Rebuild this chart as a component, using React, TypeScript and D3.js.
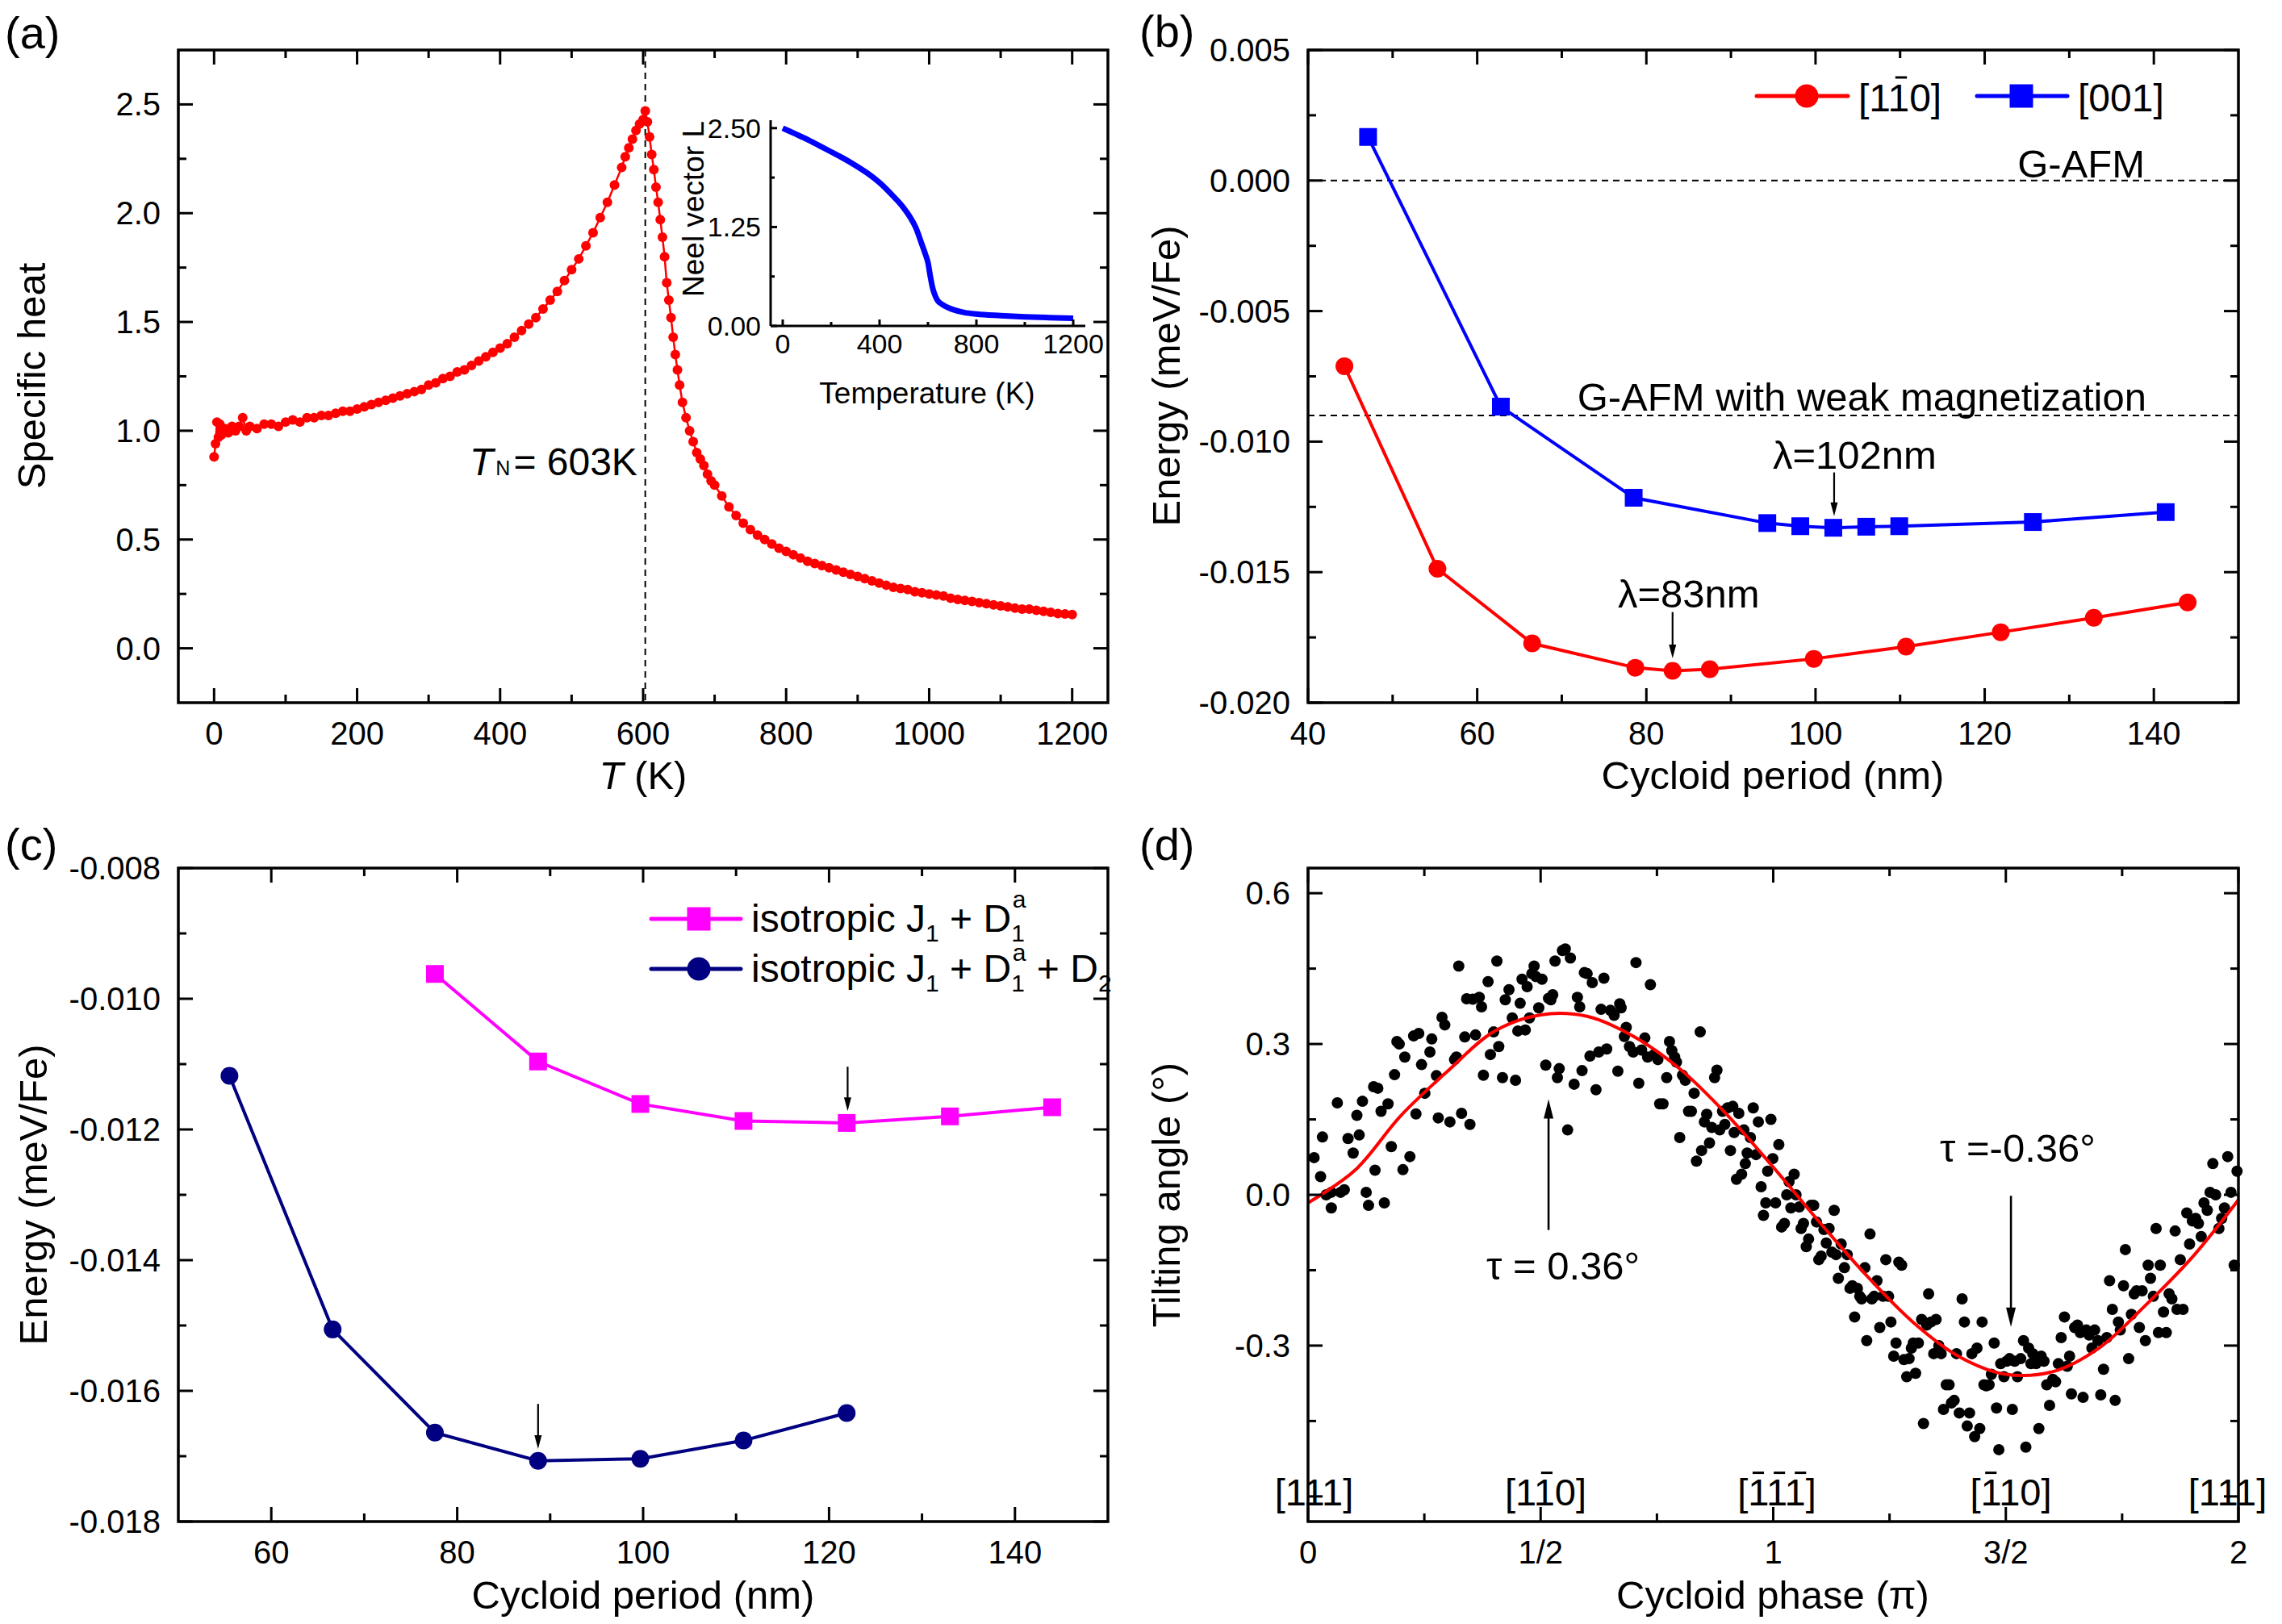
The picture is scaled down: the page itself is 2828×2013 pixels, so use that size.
import React from 'react';
import * as d3 from 'd3';

const FONT = "'Liberation Sans', Arial, Helvetica, sans-serif";

// ---------- Panel (a): specific heat ----------
const heatT = [0,2,4,6,8,10,15,20,25,30,35,40,45,50,60,70,80,90,100,110,120,130,140,150,160,170,180,190,200,210,220,230,240,250,260,270,280,290,300,310,320,330,340,350,360,370,380,390,400,410,420,430,440,450,460,470,480,490,500,510,520,530,540,550,560,570,575,580,585,590,595,600,603,606,609,612,615,618,621,624,627,630,633,636,639,642,645,648,651,655,660,665,670,675,680,685,690,695,700,710,720,730,740,750,760,770,780,790,800,810,820,830,840,850,860,870,880,890,900,910,920,930,940,950,960,970,980,990,1000,1010,1020,1030,1040,1050,1060,1070,1080,1090,1100,1110,1120,1130,1140,1150,1160,1170,1180,1190,1200];
const heatC = [0.88,0.94,1.04,0.97,1.03,0.98,1.01,0.99,1.02,1.00,1.02,1.06,1.00,1.02,1.01,1.03,1.03,1.02,1.04,1.05,1.04,1.06,1.06,1.07,1.07,1.08,1.09,1.09,1.10,1.11,1.12,1.13,1.14,1.15,1.16,1.17,1.18,1.19,1.21,1.22,1.24,1.25,1.27,1.28,1.30,1.32,1.34,1.36,1.38,1.40,1.43,1.46,1.49,1.52,1.56,1.60,1.64,1.69,1.74,1.79,1.85,1.91,1.98,2.05,2.13,2.21,2.26,2.30,2.34,2.38,2.41,2.43,2.47,2.42,2.35,2.27,2.20,2.12,2.05,1.97,1.89,1.80,1.68,1.60,1.52,1.43,1.35,1.28,1.21,1.13,1.06,1.00,0.95,0.90,0.87,0.84,0.80,0.77,0.75,0.70,0.65,0.61,0.575,0.545,0.52,0.50,0.48,0.46,0.445,0.43,0.415,0.40,0.39,0.38,0.37,0.36,0.35,0.34,0.33,0.32,0.31,0.30,0.29,0.28,0.275,0.27,0.26,0.255,0.25,0.245,0.24,0.23,0.225,0.22,0.215,0.21,0.205,0.20,0.195,0.19,0.185,0.18,0.18,0.175,0.17,0.165,0.16,0.158,0.155];
const neelTemp = [0,50,100,150,200,250,300,350,400,450,500,525,550,575,590,600,610,620,630,640,660,680,700,750,800,900,1000,1100,1200];
const neelL = [2.50,2.43,2.36,2.28,2.20,2.12,2.03,1.93,1.81,1.66,1.49,1.38,1.24,1.03,0.90,0.80,0.62,0.47,0.38,0.32,0.27,0.235,0.21,0.17,0.15,0.13,0.115,0.105,0.097];
const TN = 603;
const aXMaj = [0,200,400,600,800,1000,1200];
const aXMin = [100,300,500,700,900,1100];
const aYMaj = [0,0.5,1,1.5,2,2.5];
const aYMin = [0.25,0.75,1.25,1.75,2.25];
const iXMaj = [0,400,800,1200];
const iXMin = [200,600,1000];
const iYMaj = [0,1.25,2.5];
const iYMin = [0.625,1.875];

// ---------- Panel (b) ----------
const periodRed = [44.3,55.3,66.5,78.7,83.1,87.5,99.8,110.7,121.9,132.9,144.0];
const energyRed = [-0.00711,-0.01487,-0.01773,-0.01866,-0.01878,-0.01872,-0.01832,-0.01785,-0.0173,-0.01675,-0.01616];
const periodBlue = [47.1,62.8,78.5,94.3,98.2,102.1,106.0,109.9,125.7,141.4];
const energyBlue = [0.00167,-0.00866,-0.01215,-0.01312,-0.01324,-0.0133,-0.01326,-0.01324,-0.01308,-0.0127];
const gafmLevels = [0, -0.009];
const bXMaj = [40,60,80,100,120,140];
const bXMin = [50,70,90,110,130];
const bYMaj = [-0.02,-0.015,-0.01,-0.005,0,0.005];
const bYMin = [-0.0175,-0.0125,-0.0075,-0.0025,0.0025];

// ---------- Panel (c) ----------
const periodMag = [77.6,88.7,99.7,110.8,121.9,133.0,144.0];
const energyMag = [-0.00962,-0.01096,-0.01161,-0.01187,-0.0119,-0.0118,-0.01166];
const periodNavy = [55.5,66.6,77.6,88.7,99.7,110.8,121.9];
const energyNavy = [-0.01118,-0.01506,-0.01664,-0.01707,-0.01704,-0.01676,-0.01634];
const cXMaj = [60,80,100,120,140];
const cXMin = [70,90,110,130];
const cYMaj = [-0.018,-0.016,-0.014,-0.012,-0.01,-0.008];
const cYMin = [-0.017,-0.015,-0.013,-0.011,-0.009];

// ---------- Panel (d) ----------
const fitPhase = [0,0.1,0.2,0.3,0.4,0.5,0.6,0.7,0.8,0.9,1.0,1.1,1.2,1.3,1.4,1.5,1.6,1.7,1.8,1.9,2.0];
const fitTilt = [-0.016,0.048,0.158,0.246,0.325,0.358,0.355,0.315,0.25,0.16,0.055,-0.055,-0.16,-0.253,-0.322,-0.357,-0.352,-0.305,-0.22,-0.125,-0.01];
const dotPhase = [0.013,0.027,0.031,0.039,0.050,0.063,0.050,0.070,0.078,0.086,
0.097,0.105,0.110,0.117,0.125,0.130,0.141,0.144,0.150,0.157,
0.164,0.172,0.179,0.186,0.191,0.196,0.204,0.208,0.219,0.227,
0.232,0.238,0.244,0.251,0.262,0.266,0.276,0.280,0.288,0.294,
0.305,0.315,0.319,0.324,0.330,0.337,0.341,0.348,0.354,0.360,
0.368,0.373,0.377,0.387,0.392,0.399,0.406,0.410,0.418,0.424,
0.432,0.439,0.446,0.451,0.456,0.460,0.467,0.471,0.476,0.481,
0.486,0.490,0.496,0.503,0.511,0.517,0.522,0.526,0.531,0.536,
0.540,0.547,0.553,0.558,0.564,0.572,0.579,0.584,0.589,0.594,
0.600,0.606,0.611,0.619,0.625,0.630,0.636,0.642,0.650,0.658,
0.666,0.670,0.673,0.680,0.684,0.691,0.699,0.705,0.711,0.717,
0.724,0.730,0.736,0.744,0.752,0.756,0.763,0.771,0.777,0.782,
0.788,0.792,0.799,0.805,0.811,0.818,0.824,0.830,0.835,0.843,
0.846,0.852,0.857,0.863,0.868,0.874,0.879,0.885,0.891,0.896,
0.902,0.908,0.913,0.916,0.921,0.926,0.932,0.937,0.940,0.944,
0.951,0.957,0.963,0.968,0.974,0.979,0.984,0.988,0.995,0.999,
1.005,1.012,1.018,1.024,1.029,1.034,1.038,1.045,1.049,1.056,
1.060,1.065,1.071,1.076,1.081,1.087,1.093,1.098,1.103,1.109,
1.114,1.120,1.126,1.131,1.135,1.140,1.146,1.153,1.159,1.165,
1.170,1.175,1.181,1.186,1.190,1.197,1.201,1.208,1.212,1.217,
1.223,1.229,1.236,1.242,1.248,1.253,1.259,1.264,1.270,1.276,
1.281,1.287,1.292,1.297,1.301,1.306,1.312,1.319,1.323,1.330,
1.334,1.339,1.345,1.350,1.356,1.361,1.366,1.372,1.378,1.383,
1.389,1.394,1.400,1.406,1.411,1.417,1.422,1.427,1.433,1.438,
1.444,1.449,1.453,1.458,1.464,1.469,1.475,1.480,1.485,1.489,
1.496,1.502,1.508,1.514,1.519,1.525,1.532,1.538,1.543,1.549,
1.554,1.558,1.565,1.571,1.576,1.582,1.588,1.594,1.601,1.607,
1.613,1.619,1.626,1.632,1.637,1.641,1.648,1.654,1.660,1.666,
1.673,1.679,1.685,1.691,1.698,1.704,1.710,1.717,1.723,1.729,
1.735,1.742,1.746,1.753,1.757,1.764,1.770,1.776,1.781,1.787,
1.793,1.800,1.806,1.811,1.817,1.823,1.828,1.832,1.839,1.845,
1.851,1.857,1.864,1.868,1.875,1.881,1.889,1.895,1.901,1.908,
1.914,1.920,1.926,1.933,1.939,1.945,1.951,1.958,1.964,1.970,1.977,1.984,1.991,1.997];
const dotTilt = [0.074,0.036,0.115,0.000,-0.026,0.183,0.005,0.005,0.010,0.112,
0.083,0.158,0.119,0.186,0.005,-0.021,0.215,0.049,0.212,0.166,
-0.016,0.181,0.096,0.239,0.305,0.300,0.050,0.274,0.076,0.316,
0.161,0.321,0.259,0.202,0.284,0.310,0.237,0.153,0.353,0.338,
0.145,0.269,0.274,0.455,0.162,0.314,0.390,0.140,0.389,0.318,
0.393,0.374,0.238,0.424,0.279,0.324,0.465,0.295,0.233,0.388,
0.408,0.352,0.228,0.326,0.381,0.429,0.328,0.414,0.352,0.440,
0.455,0.434,0.372,0.429,0.258,0.391,0.388,0.398,0.465,0.233,
0.251,0.486,0.489,0.129,0.471,0.220,0.393,0.374,0.247,0.442,
0.440,0.276,0.422,0.209,0.284,0.369,0.431,0.290,0.367,0.357,
0.246,0.380,0.372,0.315,0.333,0.295,0.284,0.462,0.222,0.288,
0.312,0.274,0.418,0.279,0.269,0.181,0.181,0.233,0.305,0.287,
0.274,0.264,0.114,0.238,0.228,0.166,0.166,0.202,0.067,0.324,
0.088,0.145,0.160,0.103,0.134,0.233,0.248,0.129,0.166,0.140,
0.173,0.088,0.176,0.124,0.031,0.162,0.041,0.129,0.062,0.083,
0.114,0.173,0.080,0.145,0.016,-0.041,-0.016,0.047,0.150,0.072,
-0.016,0.100,-0.064,-0.057,0.000,0.026,-0.026,0.041,0.000,-0.024,
-0.067,-0.057,-0.103,-0.088,-0.021,-0.021,-0.054,-0.129,-0.122,-0.069,
-0.096,-0.067,-0.114,-0.031,-0.119,-0.166,-0.098,-0.145,-0.119,-0.186,
-0.181,-0.243,-0.186,-0.202,-0.207,-0.145,-0.290,-0.078,-0.207,-0.202,
-0.171,-0.264,-0.202,-0.129,-0.202,-0.253,-0.321,-0.295,-0.134,-0.140,
-0.328,-0.362,-0.326,-0.305,-0.295,-0.355,-0.295,-0.248,-0.455,-0.259,
-0.197,-0.253,-0.316,-0.248,-0.300,-0.316,-0.427,-0.378,-0.378,-0.414,
-0.409,-0.316,-0.434,-0.207,-0.253,-0.460,-0.434,-0.316,-0.481,-0.305,
-0.465,-0.253,-0.378,-0.380,-0.378,-0.357,-0.295,-0.424,-0.507,-0.336,
-0.362,-0.331,-0.326,-0.427,-0.331,-0.362,-0.326,-0.290,-0.502,-0.305,
-0.336,-0.316,-0.336,-0.465,-0.321,-0.331,-0.378,-0.419,-0.367,-0.372,
-0.336,-0.284,-0.243,-0.341,-0.321,-0.396,-0.264,-0.259,-0.274,-0.403,
-0.269,-0.279,-0.305,-0.269,-0.290,-0.398,-0.347,-0.284,-0.171,-0.228,
-0.409,-0.253,-0.269,-0.181,-0.109,-0.326,-0.238,-0.197,-0.191,-0.264,
-0.191,-0.290,-0.140,-0.166,-0.202,-0.067,-0.274,-0.140,-0.233,-0.274,
-0.197,-0.207,-0.072,-0.228,-0.129,-0.228,-0.036,-0.098,-0.052,-0.047,
-0.057,-0.083,-0.016,-0.031,0.005,0.062,0.000,-0.067,-0.047,-0.026,0.076,0.005,-0.140,0.047];
const dXMaj = [0,0.5,1,1.5,2];
const dXLab = ['0','1/2','1','3/2','2'];
const dXMin = [0.25,0.75,1.25,1.75];
const dYMaj = [0.6,0.3,0,-0.3,-0.6];
const dYMin = [0.45,0.15,-0.15,-0.45];
const dirPhase = [0,0.5,1,1.5,2];
const dirDigits = ['111','110','111','110','111'];
const dirBars = [[0,0,0],[0,1,0],[1,1,1],[1,0,0],[0,0,0]];
const dirShift = [11,8,8,8,-10];

type Sc = d3.ScaleLinear<number, number>;
const fmt = (f: string) => (v: number) => d3.format(f)(v).replace('\u2212', '-');

function Frame(props: { xs: Sc; ys: Sc; xMaj: number[]; xMin: number[]; yMaj: number[]; yMin: number[]; xLab: string[]; yLab: string[] }) {
  const { xs, ys, xMaj, xMin, yMaj, yMin, xLab, yLab } = props;
  const [x0, x1] = xs.range();
  const [yb, yt] = ys.range();
  const L = 18, l = 10;
  const ticks: any[] = [];
  xMaj.forEach((v, i) => {
    const p = xs(v);
    ticks.push(<line key={`xb${i}`} x1={p} x2={p} y1={yb} y2={yb - L} />);
    ticks.push(<line key={`xt${i}`} x1={p} x2={p} y1={yt} y2={yt + L} />);
  });
  xMin.forEach((v, i) => {
    const p = xs(v);
    ticks.push(<line key={`xbm${i}`} x1={p} x2={p} y1={yb} y2={yb - l} />);
    ticks.push(<line key={`xtm${i}`} x1={p} x2={p} y1={yt} y2={yt + l} />);
  });
  yMaj.forEach((v, i) => {
    const p = ys(v);
    ticks.push(<line key={`yl${i}`} x1={x0} x2={x0 + L} y1={p} y2={p} />);
    ticks.push(<line key={`yr${i}`} x1={x1} x2={x1 - L} y1={p} y2={p} />);
  });
  yMin.forEach((v, i) => {
    const p = ys(v);
    ticks.push(<line key={`ylm${i}`} x1={x0} x2={x0 + l} y1={p} y2={p} />);
    ticks.push(<line key={`yrm${i}`} x1={x1} x2={x1 - l} y1={p} y2={p} />);
  });
  return (
    <g>
      <g stroke="#000" strokeWidth={3}>{ticks}</g>
      <rect x={x0} y={yt} width={x1 - x0} height={yb - yt} fill="none" stroke="#000" strokeWidth={3.5} />
      <g fontSize={40} fill="#000">
        {xLab.map((s, i) => (
          <text key={`xl${i}`} x={xs(xMaj[i])} y={yb + 52} textAnchor="middle">{s}</text>
        ))}
        {yLab.map((s, i) => (
          <text key={`yl${i}`} x={x0 - 22} y={ys(yMaj[i]) + 14} textAnchor="end">{s}</text>
        ))}
      </g>
    </g>
  );
}

function Arrow({ x, y1, y2, head = 18, hw = 10, sw = 2.2 }: { x: number; y1: number; y2: number; head?: number; hw?: number; sw?: number }) {
  const dir = y2 > y1 ? 1 : -1;
  return (
    <g>
      <line x1={x} x2={x} y1={y1} y2={y2 - dir * head * 0.7} stroke="#000" strokeWidth={sw} />
      <polygon points={`${x},${y2} ${x - hw / 2},${y2 - dir * head} ${x + hw / 2},${y2 - dir * head}`} fill="#000" />
    </g>
  );
}

export default function App() {
  const xA = d3.scaleLinear().domain([-50, 1250]).range([221, 1373]);
  const yA = d3.scaleLinear().domain([-0.25, 2.75]).range([871, 62]);
  const xI = d3.scaleLinear().domain([-50, 1250]).range([955, 1345]);
  const yI = d3.scaleLinear().domain([0, 2.6]).range([404, 149]);
  const xB = d3.scaleLinear().domain([40, 150]).range([1621, 2774]);
  const yB = d3.scaleLinear().domain([-0.02, 0.005]).range([871, 62]);
  const xC = d3.scaleLinear().domain([50, 150]).range([221, 1373]);
  const yC = d3.scaleLinear().domain([-0.018, -0.008]).range([1886, 1076]);
  const xD = d3.scaleLinear().domain([0, 2]).range([1621, 2774]);
  const yD = d3.scaleLinear().domain([-0.65, 0.65]).range([1886, 1076]);

  const heatPts = heatT.map((t, i) => [t, heatC[i]] as [number, number]);
  const heatLine = d3.line<[number, number]>().x(d => xA(d[0])).y(d => yA(d[1]))(heatPts) || '';
  const neelLine = d3.line<number>().x((_, i) => xI(neelTemp[i])).y(d => yI(d)).curve(d3.curveMonotoneX)(neelL) || '';

  const lineB = (xs: number[], ys: number[]) => d3.line<number>().x((_, i) => xB(xs[i])).y(d => yB(d))(ys) || '';
  const lineC = (xs: number[], ys: number[]) => d3.line<number>().x((_, i) => xC(xs[i])).y(d => yC(d))(ys) || '';
  const fitLine = d3.line<number>().x((_, i) => xD(fitPhase[i])).y(d => yD(d)).curve(d3.curveCatmullRom)(fitTilt) || '';

  const RED = '#ff0000', BLUE = '#0000ff', MAG = '#ff00ff', NAVY = '#000080';
  const ms = 22, lms = 29;

  const f1 = fmt('.1f'), f2 = fmt('.2f'), f3 = fmt('.3f');

  const dirFs = 47;
  const dirW = (0.278 * 2 + 0.556 * 3) * dirFs;

  return (
    <svg width={2828} height={2013} style={{ position: 'absolute', left: 0, top: 0, background: '#fff' }} fontFamily={FONT}>
      <rect x={0} y={0} width={2828} height={2013} fill="#fff" />

      {/* ================= (a) ================= */}
      <text x={6} y={60} fontSize={56}>(a)</text>
      <line x1={xA(TN)} x2={xA(TN)} y1={62} y2={871} stroke="#000" strokeWidth={2} strokeDasharray="8 6" />
      <path d={heatLine} fill="none" stroke={RED} strokeWidth={2.5} />
      {heatPts.map((d, i) => (
        <circle key={`h${i}`} cx={xA(d[0])} cy={yA(d[1])} r={6} fill={RED} />
      ))}
      <Frame xs={xA} ys={yA} xMaj={aXMaj} xMin={aXMin} yMaj={aYMaj} yMin={aYMin}
        xLab={aXMaj.map(v => String(v))} yLab={aYMaj.map(f1)} />
      <text x={582} y={589} fontSize={48}>
        <tspan fontStyle="italic">T</tspan>
        <tspan fontSize={25} dx={3}>N</tspan>
        <tspan dx={4}>= 603K</tspan>
      </text>
      {/* inset */}
      <path d={neelLine} fill="none" stroke={BLUE} strokeWidth={7} />
      <g stroke="#000" strokeWidth={3}>
        <line x1={955} x2={1345} y1={yI(0)} y2={yI(0)} />
        <line x1={955} x2={955} y1={149} y2={yI(0)} />
        {iXMaj.map((v, i) => <line key={`ix${i}`} x1={xI(v)} x2={xI(v)} y1={yI(0)} y2={yI(0) - 8} />)}
        {iXMin.map((v, i) => <line key={`ixm${i}`} x1={xI(v)} x2={xI(v)} y1={yI(0)} y2={yI(0) - 5} />)}
        {iYMaj.map((v, i) => <line key={`iy${i}`} x1={955} x2={963} y1={yI(v)} y2={yI(v)} />)}
        {iYMin.map((v, i) => <line key={`iym${i}`} x1={955} x2={960} y1={yI(v)} y2={yI(v)} />)}
      </g>
      <g fontSize={34}>
        {iXMaj.map((v, i) => <text key={`ixl${i}`} x={xI(v)} y={438} textAnchor="middle">{String(v)}</text>)}
        {iYMaj.map((v, i) => <text key={`iyl${i}`} x={943} y={yI(v) + 12} textAnchor="end">{f2(v)}</text>)}
      </g>
      <text x={1149} y={500} fontSize={37} textAnchor="middle">Temperature (K)</text>
      <text transform="translate(872,259) rotate(-90)" fontSize={37} textAnchor="middle">Neel vector L</text>
      <text transform="translate(56,466) rotate(-90)" fontSize={49} textAnchor="middle">Specific heat</text>
      <text x={797} y={978} fontSize={49} textAnchor="middle"><tspan fontStyle="italic">T</tspan> (K)</text>

      {/* ================= (b) ================= */}
      <text x={1412} y={58} fontSize={56}>(b)</text>
      {gafmLevels.map((v, i) => (
        <line key={`g${i}`} x1={1621} x2={2774} y1={yB(v)} y2={yB(v)} stroke="#000" strokeWidth={2} strokeDasharray="8 6" />
      ))}
      <text x={2658} y={220} fontSize={49} textAnchor="end">G-AFM</text>
      <text x={2660} y={509} fontSize={49} textAnchor="end">G-AFM with weak magnetization</text>
      <path d={lineB(periodRed, energyRed)} fill="none" stroke={RED} strokeWidth={4} />
      <path d={lineB(periodBlue, energyBlue)} fill="none" stroke={BLUE} strokeWidth={4} />
      {periodRed.map((p, i) => <circle key={`br${i}`} cx={xB(p)} cy={yB(energyRed[i])} r={ms / 2} fill={RED} />)}
      {periodBlue.map((p, i) => <rect key={`bb${i}`} x={xB(p) - ms / 2} y={yB(energyBlue[i]) - ms / 2} width={ms} height={ms} fill={BLUE} />)}
      <text x={2197} y={581} fontSize={49}>λ=102nm</text>
      <Arrow x={xB(102.2)} y1={yB(-0.01118)} y2={yB(-0.01285)} head={17} hw={9} />
      <text x={2005} y={753} fontSize={49}>λ=83nm</text>
      <Arrow x={xB(83.1)} y1={yB(-0.01653)} y2={yB(-0.0183)} head={17} hw={9} />
      {/* legend */}
      <line x1={2177} x2={2290} y1={119} y2={119} stroke={RED} strokeWidth={5} strokeLinecap="round" />
      <circle cx={2239} cy={119} r={lms / 2} fill={RED} />
      <text x={2303} y={138} fontSize={48}>[110]</text>
      <line x1={2303 + (0.278 + 0.556 + 0.12) * 48} x2={2303 + (0.278 + 0.556 + 0.42) * 48} y1={96} y2={96} stroke="#000" strokeWidth={3} />
      <line x1={2450} x2={2562} y1={119} y2={119} stroke={BLUE} strokeWidth={5} strokeLinecap="round" />
      <rect x={2505 - lms / 2} y={119 - lms / 2} width={lms} height={lms} fill={BLUE} />
      <text x={2575} y={138} fontSize={48}>[001]</text>
      <Frame xs={xB} ys={yB} xMaj={bXMaj} xMin={bXMin} yMaj={bYMaj} yMin={bYMin}
        xLab={bXMaj.map(v => String(v))} yLab={bYMaj.map(f3)} />
      <text transform="translate(1462,466) rotate(-90)" fontSize={49} textAnchor="middle">Energy (meV/Fe)</text>
      <text x={2197} y={978} fontSize={49} textAnchor="middle">Cycloid period (nm)</text>

      {/* ================= (c) ================= */}
      <text x={6} y={1066} fontSize={56}>(c)</text>
      <path d={lineC(periodMag, energyMag)} fill="none" stroke={MAG} strokeWidth={4} />
      <path d={lineC(periodNavy, energyNavy)} fill="none" stroke={NAVY} strokeWidth={4} />
      {periodMag.map((p, i) => <rect key={`cm${i}`} x={xC(p) - ms / 2} y={yC(energyMag[i]) - ms / 2} width={ms} height={ms} fill={MAG} />)}
      {periodNavy.map((p, i) => <circle key={`cn${i}`} cx={xC(p)} cy={yC(energyNavy[i])} r={ms / 2} fill={NAVY} />)}
      <Arrow x={xC(122)} y1={yC(-0.01104)} y2={yC(-0.01172)} head={17} hw={9} />
      <Arrow x={xC(88.7)} y1={yC(-0.0162)} y2={yC(-0.01689)} head={17} hw={9} />
      {/* legend */}
      <line x1={807} x2={918} y1={1139} y2={1139} stroke={MAG} strokeWidth={5} strokeLinecap="round" />
      <rect x={866 - lms / 2} y={1139 - lms / 2} width={lms} height={lms} fill={MAG} />
      <text x={931} y={1155} fontSize={48}>
        isotropic J<tspan fontSize={30} dy={12}>1</tspan>
        <tspan dy={-12}> + D</tspan><tspan fontSize={30} dy={12}>1</tspan>
        <tspan fontSize={30} dx={-15} dy={-42}>a</tspan>
      </text>
      <line x1={807} x2={918} y1={1201} y2={1201} stroke={NAVY} strokeWidth={5} strokeLinecap="round" />
      <circle cx={866} cy={1201} r={lms / 2} fill={NAVY} />
      <text x={931} y={1217} fontSize={48}>
        isotropic J<tspan fontSize={30} dy={12}>1</tspan>
        <tspan dy={-12}> + D</tspan><tspan fontSize={30} dy={12}>1</tspan>
        <tspan fontSize={30} dx={-15} dy={-38}>a</tspan>
        <tspan dy={26}> + D</tspan><tspan fontSize={30} dy={12}>2</tspan>
      </text>
      <Frame xs={xC} ys={yC} xMaj={cXMaj} xMin={cXMin} yMaj={cYMaj} yMin={cYMin}
        xLab={cXMaj.map(v => String(v))} yLab={cYMaj.map(f3)} />
      <text transform="translate(58,1481) rotate(-90)" fontSize={49} textAnchor="middle">Energy (meV/Fe)</text>
      <text x={797} y={1994} fontSize={49} textAnchor="middle">Cycloid period (nm)</text>

      {/* ================= (d) ================= */}
      <text x={1412} y={1066} fontSize={56}>(d)</text>
      {dotPhase.map((p, i) => <circle key={`dd${i}`} cx={xD(p)} cy={yD(dotTilt[i])} r={7} fill="#000" />)}
      <path d={fitLine} fill="none" stroke={RED} strokeWidth={4} />
      <Arrow x={xD(0.517)} y1={yD(-0.07)} y2={yD(0.19)} head={24} hw={12} sw={2.6} />
      <Arrow x={xD(1.511)} y1={yD(-0.002)} y2={yD(-0.263)} head={24} hw={12} sw={2.6} />
      <text x={1842} y={1586} fontSize={49}>τ = 0.36°</text>
      <text x={2404} y={1440} fontSize={49}>τ =-0.36°</text>
      {dirPhase.map((p, k) => {
        const x0 = xD(p) + dirShift[k] - dirW / 2;
        const base = 1866;
        return (
          <g key={`dir${k}`}>
            <text x={x0} y={base} fontSize={dirFs}>[{dirDigits[k]}]</text>
            {dirBars[k].map((b, j) => b ? (
              <line key={j} x1={x0 + (0.278 + 0.556 * j + 0.12) * dirFs} x2={x0 + (0.278 + 0.556 * j + 0.42) * dirFs}
                y1={base - 0.86 * dirFs} y2={base - 0.86 * dirFs} stroke="#000" strokeWidth={3} />
            ) : null)}
          </g>
        );
      })}
      <Frame xs={xD} ys={yD} xMaj={dXMaj} xMin={dXMin} yMaj={dYMaj} yMin={dYMin}
        xLab={dXLab} yLab={dYMaj.slice(0, 4).map(f1)} />
      <text transform="translate(1462,1481) rotate(-90)" fontSize={49} textAnchor="middle">Tilting angle (°)</text>
      <text x={2197} y={1994} fontSize={49} textAnchor="middle">Cycloid phase (π)</text>
    </svg>
  );
}
